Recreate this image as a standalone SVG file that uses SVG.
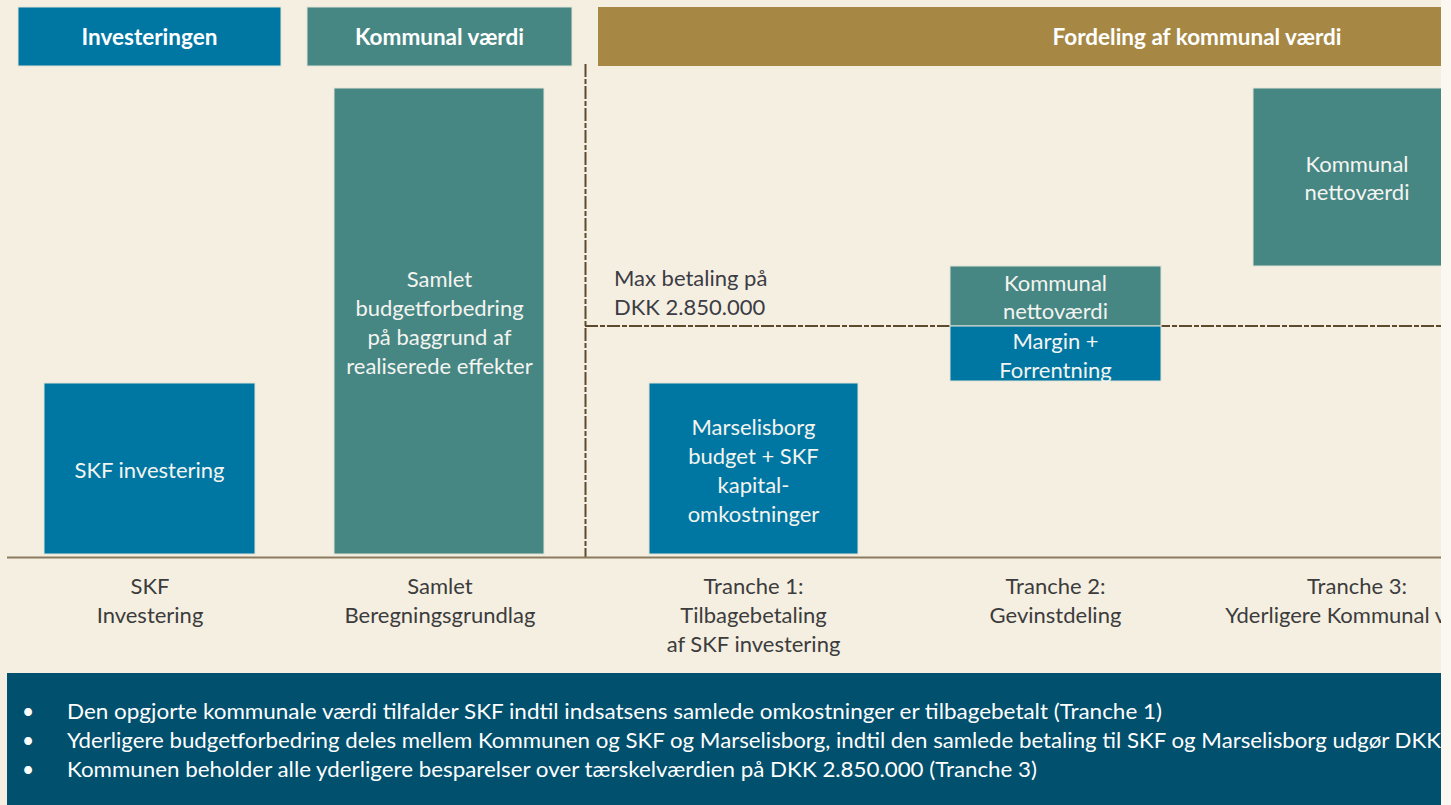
<svg xmlns="http://www.w3.org/2000/svg" width="1451" height="805" viewBox="0 0 1451 805">
<style>
.blue{fill:#0077A3}
.teal{fill:#468784}
.gold{fill:#A68844}
.box{stroke:#dfe3d6;stroke-width:1}
.hd{font-family:Lato,"Liberation Sans",sans-serif;font-weight:bold;font-size:22.5px;fill:#ffffff;text-anchor:middle}
.bx{font-family:Lato,"Liberation Sans",sans-serif;font-size:22px;fill:#f4f4f0;text-anchor:middle}
.lb{font-family:Lato,"Liberation Sans",sans-serif;font-size:22px;fill:#3c3c3c;text-anchor:middle}
.mx{font-family:Lato,"Liberation Sans",sans-serif;font-size:22px;fill:#3c3c44}
.nt{font-family:Lato,"Liberation Sans",sans-serif;font-size:21px;fill:#ffffff}
.dash{stroke:#5e4a2c;stroke-width:2;stroke-dasharray:13 2 5 2;fill:none}
</style>
<defs>
<clipPath id="page"><rect x="0" y="0" width="1441" height="805"/></clipPath>
</defs>
<rect x="0" y="0" width="1451" height="805" fill="#fbf8f2"/>
<g clip-path="url(#page)">
<rect x="0" y="0" width="1441" height="805" fill="#F5EFE2"/>

<g id="header-investeringen">
<rect x="18" y="7" width="263" height="59" class="blue box"/>
<text x="149.5" y="44.5" class="hd">Investeringen</text>
</g>
<g id="header-kommunal-vaerdi">
<rect x="307" y="7" width="265" height="59" class="teal box"/>
<text x="439.5" y="44.5" class="hd">Kommunal værdi</text>
</g>
<g id="header-fordeling">
<rect x="598" y="7" width="860" height="59" class="gold"/>
<text x="1197" y="44.5" class="hd">Fordeling af kommunal værdi</text>
</g>

<g id="lines">
<line x1="585.5" y1="64" x2="585.5" y2="557" class="dash"/>
<line x1="585" y1="326" x2="1441" y2="326" class="dash"/>
<line x1="7" y1="557.5" x2="1441" y2="557.5" stroke="#8c7c5e" stroke-width="2"/>
</g>

<g id="skf-investering">
<rect x="44" y="383" width="211" height="171" class="blue box"/>
<text x="149.5" y="478" class="bx">SKF investering</text>
</g>

<g id="samlet-budgetforbedring">
<rect x="334" y="88" width="210" height="466" class="teal box"/>
<text x="439.5" y="287" class="bx">Samlet</text>
<text x="439.5" y="316" class="bx">budgetforbedring</text>
<text x="439.5" y="345" class="bx">på baggrund af</text>
<text x="439.5" y="374" class="bx">realiserede effekter</text>
</g>

<g id="max-betaling">
<text x="614" y="286" class="mx">Max betaling på</text>
<text x="614" y="315" class="mx">DKK 2.850.000</text>
</g>

<g id="marselisborg">
<rect x="649" y="383" width="209" height="171" class="blue box"/>
<text x="753.5" y="435" class="bx">Marselisborg</text>
<text x="753.5" y="464" class="bx">budget + SKF</text>
<text x="753.5" y="493" class="bx">kapital-</text>
<text x="753.5" y="522" class="bx">omkostninger</text>
</g>

<g id="tranche2-kommunal">
<rect x="950" y="266" width="211" height="60" class="teal box"/>
<text x="1055.5" y="291" class="bx">Kommunal</text>
<text x="1055.5" y="319" class="bx">nettoværdi</text>
</g>
<g id="tranche2-margin">
<rect x="950" y="326" width="211" height="55" class="blue box"/>
<text x="1055.5" y="349" class="bx">Margin +</text>
<text x="1055.5" y="378" class="bx">Forrentning</text>
</g>

<g id="tranche3-kommunal">
<rect x="1253" y="88" width="210" height="178" class="teal box"/>
<text x="1357" y="172" class="bx">Kommunal</text>
<text x="1357" y="200" class="bx">nettoværdi</text>
</g>

<g id="labels">
<text x="150" y="594" class="lb">SKF</text>
<text x="150" y="623" class="lb">Investering</text>
<text x="440" y="594" class="lb">Samlet</text>
<text x="440" y="623" class="lb">Beregningsgrundlag</text>
<text x="753.5" y="594" class="lb">Tranche 1:</text>
<text x="753.5" y="623" class="lb">Tilbagebetaling</text>
<text x="753.5" y="652" class="lb">af SKF investering</text>
<text x="1055.5" y="594" class="lb">Tranche 2:</text>
<text x="1055.5" y="623" class="lb">Gevinstdeling</text>
<text x="1357" y="594" class="lb">Tranche 3:</text>
<text x="1357" y="623" class="lb">Yderligere Kommunal værdi</text>
</g>

<g id="notes">
<rect x="7" y="673" width="1450" height="140" fill="#00506E"/>
<text x="22" y="719" class="nt">•</text>
<text x="22" y="748" class="nt">•</text>
<text x="22" y="777" class="nt">•</text>
<text x="67" y="719" class="nt" textLength="1095" lengthAdjust="spacingAndGlyphs">Den opgjorte kommunale værdi tilfalder SKF indtil indsatsens samlede omkostninger er tilbagebetalt (Tranche 1)</text>
<text x="67" y="748" class="nt" textLength="1374" lengthAdjust="spacingAndGlyphs">Yderligere budgetforbedring deles mellem Kommunen og SKF og Marselisborg, indtil den samlede betaling til SKF og Marselisborg udgør DKK</text>
<text x="67" y="777" class="nt" textLength="970" lengthAdjust="spacingAndGlyphs">Kommunen beholder alle yderligere besparelser over tærskelværdien på DKK 2.850.000 (Tranche 3)</text>
</g>
</g>
</svg>
